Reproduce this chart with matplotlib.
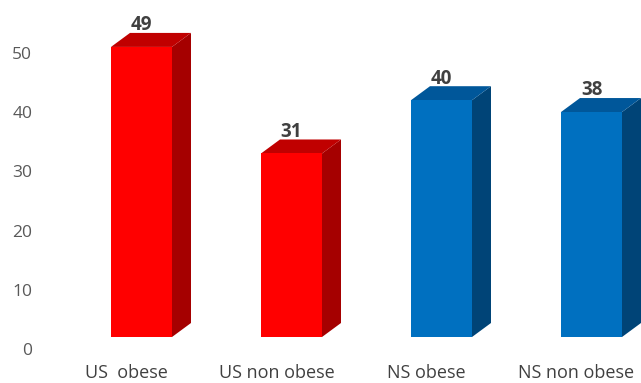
import matplotlib
matplotlib.use("Agg")
import matplotlib.pyplot as plt
from matplotlib.patches import Polygon
from matplotlib.transforms import offset_copy

categories = ["US  obese", "US non obese", "NS obese", "NS non obese"]
values = [49, 31, 40, 38]
front_colors = ["#ff0000", "#ff0000", "#0070c0", "#0070c0"]
side_colors = ["#a50000", "#a50000", "#004477", "#004477"]
top_colors = ["#c00000", "#c00000", "#00579a", "#00579a"]
yticks = [0, 10, 20, 30, 40, 50]

DPI = 100
W, H = 641, 383
fig = plt.figure(figsize=(W / DPI, H / DPI), dpi=DPI)
plt.rcParams['font.family'] = ['Open Sans', 'DejaVu Sans']

# axes box in pixels
left, bottom = 40, 29
ax = fig.add_axes([left / W, bottom / H, (W - left) / W, (H - bottom) / H])

px_x = 150.0   # pixels per category
px_y = 5.92    # pixels per unit
x0 = 141.5     # pixel of first bar centre
ax.set_xlim(-(x0 - left) / px_x, (W - x0) / px_x)
ax.set_ylim(-5 / px_y, (H - bottom - 5) / px_y)

for s in ax.spines.values():
    s.set_visible(False)

width = 61 / px_x
dx = 19 / px_x
dy = 14 / px_y
lift = offset_copy(ax.transData, fig=fig, x=0, y=12, units='dots')

xs = list(range(len(values)))
for x, v, fc, sc, tc in zip(xs, values, front_colors, side_colors, top_colors):
    l, r = x - width / 2, x + width / 2
    ax.bar(x, v, width=width, color=fc, transform=lift, zorder=3)
    ax.add_patch(Polygon([(r, 0), (r + dx, dy), (r + dx, v + dy), (r, v)],
                         closed=True, facecolor=sc, edgecolor='none', transform=lift, zorder=2))
    ax.add_patch(Polygon([(l, v), (r, v), (r + dx, v + dy), (l + dx, v + dy)],
                         closed=True, facecolor=tc, edgecolor='none', transform=lift, zorder=2))
    ax.annotate(str(v), xy=(x, v), xytext=(0, 17), textcoords='offset points',
                ha='center', va='bottom', fontsize=13.5, fontweight='bold', color='#404040')

ax.set_yticks(yticks)
ax.set_yticklabels([str(t) for t in yticks])
ax.set_xticks([x - 0.1 for x in xs])
ax.set_xticklabels(categories)
ax.tick_params(axis='y', length=0, pad=5.5, labelsize=12.5, labelcolor='#595959')
ax.tick_params(axis='x', length=0, pad=7, labelsize=13, labelcolor='#404040')

fig.savefig("out.png", dpi=DPI)
